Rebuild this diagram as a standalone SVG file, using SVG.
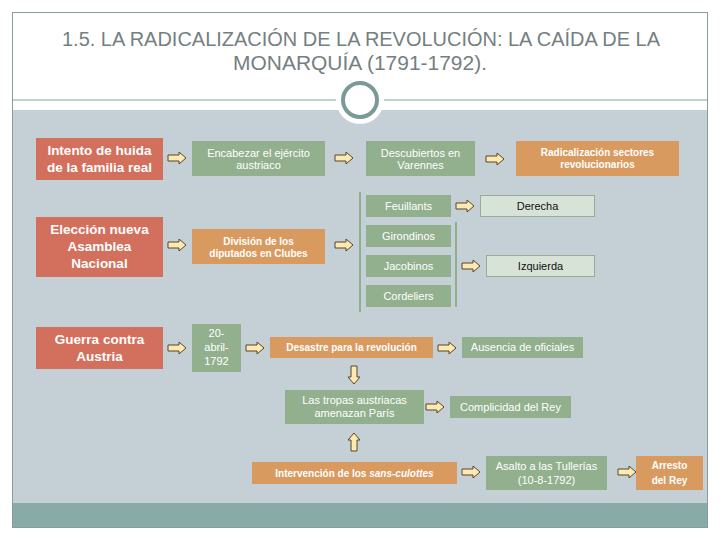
<svg xmlns="http://www.w3.org/2000/svg" width="720" height="540" viewBox="0 0 720 540">
<defs>
<style>
.red{fill:#d3705d}
.grn{fill:#92b08e}
.org{fill:#d99a5f}
.lgt{fill:#d7e3d6;stroke:#98ad98;stroke-width:1}
.tr{font-family:"Liberation Sans",Arial,sans-serif;font-weight:bold;font-size:13.5px;fill:#ffffff;text-anchor:middle}
.tg{font-family:"Liberation Sans",Arial,sans-serif;font-size:11px;fill:#ffffff;text-anchor:middle}
.to{font-family:"Liberation Sans",Arial,sans-serif;font-weight:bold;font-size:10px;fill:#ffffff;text-anchor:middle}
.tl{font-family:"Liberation Sans",Arial,sans-serif;font-size:11px;fill:#111111;text-anchor:middle}
.arr{fill:#fde9b2;stroke:#5b4526;stroke-width:1}
.vl{stroke:#8fae8a;stroke-width:2}
</style>
<path id="ar" class="arr" d="M0,-3 H11 V-6 L18,0 L11,6 V3 H0 Z"/>
</defs>
<rect x="0" y="0" width="720" height="540" fill="#ffffff"/>
<g id="frame">
<rect x="12" y="110" width="696" height="393" fill="#c5d0d6"/>
<rect x="12" y="503" width="696" height="24" fill="#88aba8"/>
<rect x="12.5" y="12.5" width="695" height="515" fill="none" stroke="#8a9c9c" stroke-width="1"/>
<line x1="12" y1="100" x2="708" y2="100" stroke="#8aa0a0" stroke-width="1"/>
<circle cx="360" cy="100" r="24" fill="#ffffff"/>
<circle cx="360" cy="100" r="17" fill="#ffffff" stroke="#7a9a98" stroke-width="4"/>
</g>
<g id="title" font-family="'Liberation Sans',Arial,sans-serif" font-size="20" fill="#74807f" text-anchor="middle">
<text x="361" y="46" textLength="598" lengthAdjust="spacingAndGlyphs">1.5. LA RADICALIZACIÓN DE LA REVOLUCIÓN: LA CAÍDA DE LA</text>
<text x="360" y="70" textLength="254" lengthAdjust="spacingAndGlyphs">MONARQUÍA (1791-1792).</text>
</g>
<g id="connectors">
<line class="vl" x1="360" y1="192" x2="360" y2="312"/>
<line class="vl" x1="456" y1="222" x2="456" y2="307"/>
<use href="#ar" transform="translate(168,158)"/>
<use href="#ar" transform="translate(335,158)"/>
<use href="#ar" transform="translate(486,159)"/>
<use href="#ar" transform="translate(168,245)"/>
<use href="#ar" transform="translate(335,245)"/>
<use href="#ar" transform="translate(456,206)"/>
<use href="#ar" transform="translate(462,266)"/>
<use href="#ar" transform="translate(168,348)"/>
<use href="#ar" transform="translate(246,348)"/>
<use href="#ar" transform="translate(438,348)"/>
<use href="#ar" transform="translate(426,407)"/>
<use href="#ar" transform="translate(462,472)"/>
<use href="#ar" transform="translate(618,472)"/>
<use href="#ar" transform="translate(354,366) rotate(90)"/>
<use href="#ar" transform="translate(354,451) rotate(-90)"/>
</g>
<g id="n-huida"><rect class="red" x="36" y="138" width="127" height="42"/>
<text class="tr" x="99.5" y="155">Intento de huida</text><text class="tr" x="99.5" y="172">de la familia real</text></g>
<g id="n-eleccion"><rect class="red" x="36" y="217" width="127" height="60"/>
<text class="tr" x="99.5" y="234">Elección nueva</text><text class="tr" x="99.5" y="251">Asamblea</text><text class="tr" x="99.5" y="268">Nacional</text></g>
<g id="n-guerra"><rect class="red" x="36" y="327" width="127" height="42"/>
<text class="tr" x="99.5" y="344">Guerra contra</text><text class="tr" x="99.5" y="361">Austria</text></g>
<g id="n-encabezar"><rect class="grn" x="192" y="141" width="133" height="35"/>
<text class="tg" x="258.5" y="157">Encabezar el ejército</text><text class="tg" x="258.5" y="169">austriaco</text></g>
<g id="n-varennes"><rect class="grn" x="366" y="141" width="109" height="35"/>
<text class="tg" x="420.5" y="157">Descubiertos en</text><text class="tg" x="420.5" y="169">Varennes</text></g>
<g id="n-radical"><rect class="org" x="516" y="141" width="163" height="35"/>
<text class="to" x="597.5" y="156">Radicalización sectores</text><text class="to" x="597.5" y="168">revolucionarios</text></g>
<g id="n-division"><rect class="org" x="192" y="229" width="133" height="35"/>
<text class="to" x="258.5" y="245">División de los</text><text class="to" x="258.5" y="257">diputados en Clubes</text></g>
<g id="n-feuillants"><rect class="grn" x="366" y="195" width="85" height="22"/><text class="tg" x="408.5" y="210">Feuillants</text></g>
<g id="n-girondinos"><rect class="grn" x="366" y="225" width="85" height="22"/><text class="tg" x="408.5" y="240">Girondinos</text></g>
<g id="n-jacobinos"><rect class="grn" x="366" y="255" width="85" height="22"/><text class="tg" x="408.5" y="270">Jacobinos</text></g>
<g id="n-cordeliers"><rect class="grn" x="366" y="285" width="85" height="22"/><text class="tg" x="408.5" y="300">Cordeliers</text></g>
<g id="n-derecha"><rect class="lgt" x="480.5" y="195.5" width="114" height="21"/><text class="tl" x="537.5" y="210">Derecha</text></g>
<g id="n-izquierda"><rect class="lgt" x="486.5" y="255.5" width="108" height="21"/><text class="tl" x="540.5" y="270">Izquierda</text></g>
<g id="n-fecha"><rect class="grn" x="192" y="324" width="49" height="48"/>
<text class="tg" x="216.5" y="337">20-</text><text class="tg" x="216.5" y="351">abril-</text><text class="tg" x="216.5" y="365">1792</text></g>
<g id="n-desastre"><rect class="org" x="270" y="337" width="163" height="21"/><text class="to" x="351.5" y="351">Desastre para la revolución</text></g>
<g id="n-ausencia"><rect class="grn" x="462" y="337" width="121" height="21"/><text class="tg" x="522.5" y="351">Ausencia de oficiales</text></g>
<g id="n-tropas"><rect class="grn" x="285" y="390" width="139" height="34"/>
<text class="tg" x="354.5" y="404">Las tropas austriacas</text><text class="tg" x="354.5" y="417">amenazan París</text></g>
<g id="n-complicidad"><rect class="grn" x="450" y="396" width="121" height="22"/><text class="tg" x="510.5" y="411">Complicidad del Rey</text></g>
<g id="n-intervencion"><rect class="org" x="252" y="462" width="205" height="22"/>
<text class="to" x="354.5" y="477">Intervención de los <tspan font-style="italic">sans-culottes</tspan></text></g>
<g id="n-asalto"><rect class="grn" x="486" y="456" width="121" height="34"/>
<text class="tg" x="546.5" y="470">Asalto a las Tullerías</text><text class="tg" x="546.5" y="484">(10-8-1792)</text></g>
<g id="n-arresto"><rect class="org" x="636" y="456" width="67" height="34"/>
<text class="to" x="669.5" y="469">Arresto</text><text class="to" x="669.5" y="484">del Rey</text></g>
</svg>
